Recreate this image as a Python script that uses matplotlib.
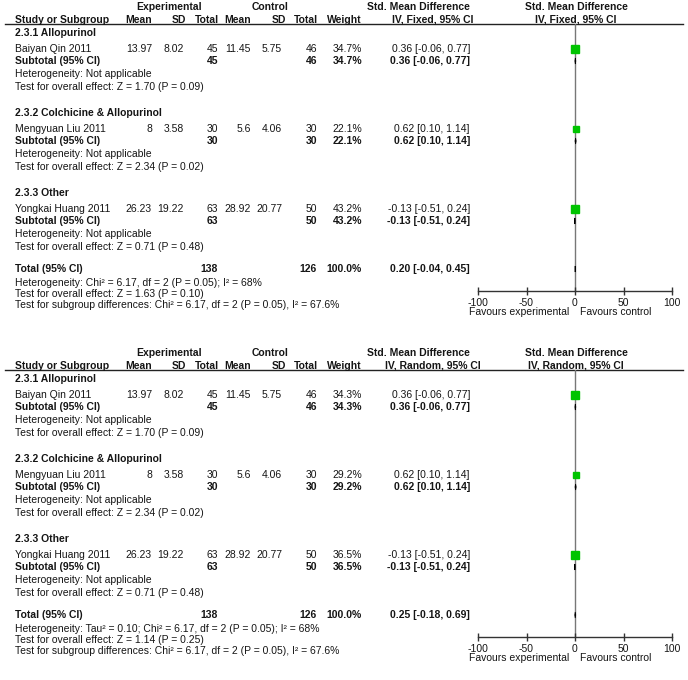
import matplotlib
matplotlib.use("Agg")
from matplotlib import pyplot as plt
from matplotlib.patches import Polygon
import numpy as np

plt.rcParams['font.family'] = ['Liberation Sans', 'DejaVu Sans']

# data
subgroups = ["2.3.1 Allopurinol", "2.3.2 Colchicine & Allopurinol", "2.3.3 Other"]
studies = ["Baiyan Qin 2011", "Mengyuan Liu 2011", "Yongkai Huang 2011"]
expMean = [13.97, 8, 26.23]
expSD = [8.02, 3.58, 19.22]
expN = [45, 30, 63]
ctlMean = [11.45, 5.6, 28.92]
ctlSD = [5.75, 4.06, 20.77]
ctlN = [46, 30, 50]
smd = [0.36, 0.62, -0.13]
smdLow = [-0.06, 0.10, -0.51]
smdHigh = [0.77, 1.14, 0.24]
subgroupZ = ["Z = 1.70 (P = 0.09)", "Z = 2.34 (P = 0.02)", "Z = 0.71 (P = 0.48)"]

fixedWeights = [34.7, 22.1, 43.2]
randomWeights = [34.3, 29.2, 36.5]
totalEst = {"Fixed": (0.20, -0.04, 0.45), "Random": (0.25, -0.18, 0.69)}
totalZ = {"Fixed": "Z = 1.63 (P = 0.10)", "Random": "Z = 1.14 (P = 0.25)"}
totalHet = {"Fixed": "Chi\u00b2 = 6.17, df = 2 (P = 0.05); I\u00b2 = 68%",
            "Random": "Tau\u00b2 = 0.10; Chi\u00b2 = 6.17, df = 2 (P = 0.05); I\u00b2 = 68%"}
subgroupDiff = "Chi\u00b2 = 6.17, df = 2 (P = 0.05), I\u00b2 = 67.6%"
xTicks = [-100, -50, 0, 50, 100]

W, H = 688, 680
FS = 7.5
GREEN = '#00c400'
TXT = '#151515'


def ci(e, lo, hi):
    return f"{e:.2f} [{lo:.2f}, {hi:.2f}]"


def txt(ax, x, y, s, ha='left', bold=False):
    ax.text(x, y, s, ha=ha, va='center', fontsize=FS, color=TXT,
            fontweight='bold' if bold else 'normal')


def drawPanel(fig, tab, top, model, weights):
    # headers
    txt(tab, 169, top + 7, "Experimental", 'center', True)
    txt(tab, 270, top + 7, "Control", 'center', True)
    txt(tab, 418, top + 7, "Std. Mean Difference", 'center', True)
    txt(tab, 576, top + 7, "Std. Mean Difference", 'center', True)
    txt(tab, 15, top + 20, "Study or Subgroup", bold=True)
    for x, s in [(152, "Mean"), (186, "SD"), (219, "Total"), (251, "Mean"),
                 (286, "SD"), (318, "Total"), (362, "Weight")]:
        txt(tab, x, top + 20, s, 'right', True)
    txt(tab, 433, top + 20, f"IV, {model}, 95% CI", 'center', True)
    txt(tab, 576, top + 20, f"IV, {model}, 95% CI", 'center', True)
    tab.plot([5, 683], [top + 24, top + 24], color='#222222', lw=1)

    # forest axes, y in the same pixel rows as the table
    ax = fig.add_axes([478 / W, 1 - (top + 291) / H, 194 / W, 267 / H])
    ax.patch.set_alpha(0)
    ax.set_xlim(-100, 100)
    ax.set_ylim(top + 291, top + 24)
    for side in ['top', 'left', 'right']:
        ax.spines[side].set_visible(False)
    ax.spines['bottom'].set_color('#333333')
    ax.spines['bottom'].set_linewidth(1)
    ax.set_yticks([])
    ax.set_xticks(xTicks)
    ax.set_xticklabels([str(t) for t in xTicks], fontsize=FS, color=TXT)
    ax.tick_params(axis='x', direction='inout', length=6, width=1, color='#333333', pad=2)
    ax.axvline(0, color='#777777', lw=1, zorder=1)
    ax.text(-6, top + 312, "Favours experimental", ha='right', va='center', fontsize=FS, color=TXT)
    ax.text(5, top + 312, "Favours control", ha='left', va='center', fontsize=FS, color=TXT)

    for g in range(len(subgroups)):
        base = top + 33 + g * 80
        txt(tab, 15, base, subgroups[g], bold=True)
        y = base + 16
        txt(tab, 15, y, studies[g])
        txt(tab, 152, y, f"{expMean[g]:g}", 'right')
        txt(tab, 184, y, f"{expSD[g]:g}", 'right')
        txt(tab, 218, y, str(expN[g]), 'right')
        txt(tab, 251, y, f"{ctlMean[g]:g}", 'right')
        txt(tab, 282, y, f"{ctlSD[g]:g}", 'right')
        txt(tab, 317, y, str(ctlN[g]), 'right')
        txt(tab, 362, y, f"{weights[g]:.1f}%", 'right')
        txt(tab, 470, y, ci(smd[g], smdLow[g], smdHigh[g]), 'right')
        ax.plot([smdLow[g], smdHigh[g]], [y, y], color='black', lw=1, zorder=2)
        ax.plot(smd[g], y, marker='s', ms=np.sqrt(weights[g]) * 0.9,
                color=GREEN, mec=GREEN, zorder=3)

        ys = base + 28
        txt(tab, 15, ys, "Subtotal (95% CI)", bold=True)
        txt(tab, 218, ys, str(expN[g]), 'right', True)
        txt(tab, 317, ys, str(ctlN[g]), 'right', True)
        txt(tab, 362, ys, f"{weights[g]:.1f}%", 'right', True)
        txt(tab, 470, ys, ci(smd[g], smdLow[g], smdHigh[g]), 'right', True)
        ax.add_patch(Polygon([(smdLow[g], ys), (smd[g], ys - 3), (smdHigh[g], ys), (smd[g], ys + 3)],
                             closed=True, color='black', lw=0.6, zorder=3))
        txt(tab, 15, base + 41, "Heterogeneity: Not applicable")
        txt(tab, 15, base + 54, "Test for overall effect: " + subgroupZ[g])

    e, lo, hi = totalEst[model]
    yt = top + 269
    txt(tab, 15, yt, "Total (95% CI)", bold=True)
    txt(tab, 218, yt, str(sum(expN)), 'right', True)
    txt(tab, 317, yt, str(sum(ctlN)), 'right', True)
    txt(tab, 362, yt, "100.0%", 'right', True)
    txt(tab, 470, yt, ci(e, lo, hi), 'right', True)
    ax.add_patch(Polygon([(lo, yt), (e, yt - 3), (hi, yt), (e, yt + 3)],
                         closed=True, color='black', lw=0.6, zorder=3))
    txt(tab, 15, top + 283, "Heterogeneity: " + totalHet[model])
    txt(tab, 15, top + 294, "Test for overall effect: " + totalZ[model])
    txt(tab, 15, top + 305, "Test for subgroup differences: " + subgroupDiff)


fig = plt.figure(figsize=(W / 100, H / 100), dpi=100)
tab = fig.add_axes([0, 0, 1, 1])
tab.set_xlim(0, W)
tab.set_ylim(H, 0)
tab.axis('off')

drawPanel(fig, tab, 0, "Fixed", fixedWeights)
drawPanel(fig, tab, 346, "Random", randomWeights)

fig.savefig("out.png", dpi=100, facecolor='white')
